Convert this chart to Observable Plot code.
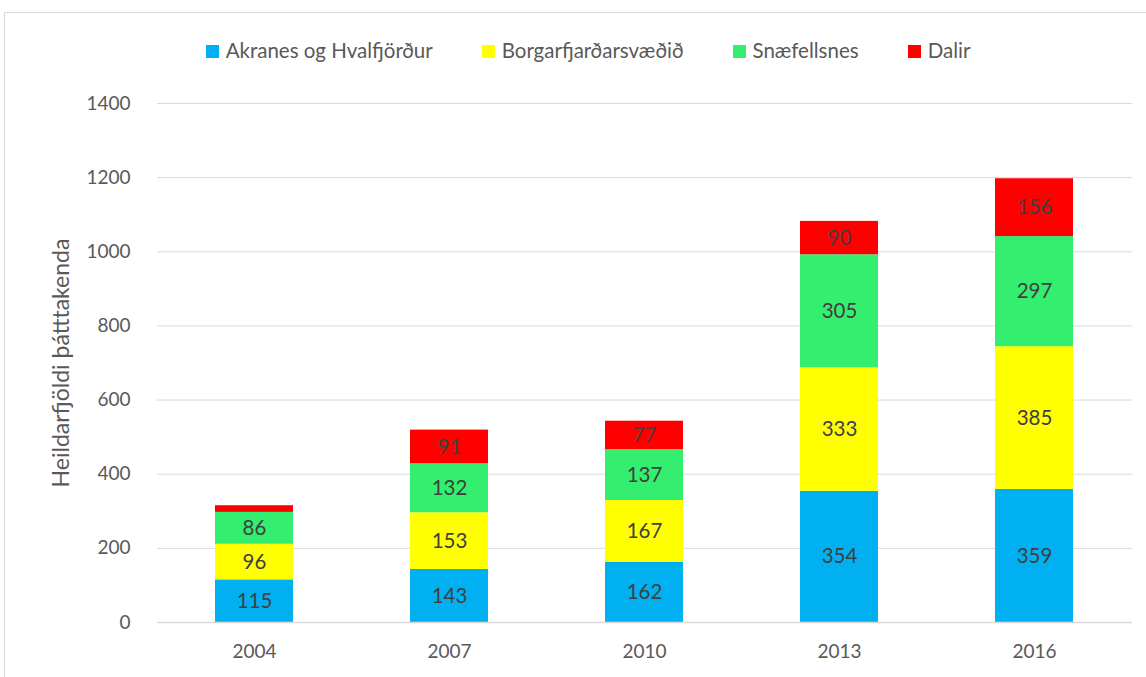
<!DOCTYPE html>
<html><head><meta charset="utf-8">
<script src="https://cdn.jsdelivr.net/npm/d3@7"></script>
<script src="https://cdn.jsdelivr.net/npm/@observablehq/plot@0.6"></script>
<style>
body{margin:0;background:#fff;font-family:Lato,"Open Sans",sans-serif;}
#frame{position:absolute;left:4px;top:12px;width:1150px;height:680px;border-left:1.5px solid #d9d9d9;border-top:1.5px solid #d9d9d9;}
#legend{position:absolute;left:0;top:30px;width:1146px;height:40px;display:flex;justify-content:center;align-items:center;gap:49px;font-size:20.5px;color:#595959;padding-left:30px;box-sizing:border-box;}
#legend span.sw{display:inline-block;width:13px;height:13px;margin-right:7px;}
#chart{position:absolute;left:0;top:76px;}
</style></head>
<body>
<div id="frame"></div>
<div id="legend"></div>
<div id="chart"></div>
<script>
const years = ["2004","2007","2010","2013","2016"];
const regions = ["Akranes og Hvalfjörður","Borgarfjarðarsvæðið","Snæfellsnes","Dalir"];
const colors = ["#00b0f0","#ffff00","#33ee6f","#ff0000"];
const akranes = [115,143,162,354,359];
const borgarfj = [96,153,167,333,385];
const snaefells = [86,132,137,305,297];
const dalir = [18,91,77,90,156];
const yTicks = [0,200,400,600,800,1000,1200,1400];

const series = [akranes, borgarfj, snaefells, dalir];
const data = [];
years.forEach((y,i)=>regions.forEach((r,j)=>data.push({year:y, region:r, value:series[j][i]})));

const legend = document.getElementById("legend");
regions.forEach((r,j)=>{
  const d=document.createElement("div");
  d.innerHTML=`<span class="sw" style="background:${colors[j]}"></span>${r}`;
  legend.appendChild(d);
});

const chart = Plot.plot({
  width:1146, height:601,
  marginTop:27, marginBottom:55, marginLeft:157, marginRight:14,
  style:{fontFamily:"Lato, 'Open Sans', sans-serif", fontSize:"19px", color:"#595959", background:"transparent"},
  x:{domain:years, paddingInner:0.6, paddingOuter:0.3, label:null, tickSize:0, tickPadding:22},
  y:{domain:[0,1400], ticks:yTicks, tickFormat:d3.format("d"), label:null, tickSize:0, tickPadding:27},
  color:{domain:regions, range:colors},
  marks:[
    Plot.gridY(yTicks,{stroke:"#d9d9d9", strokeOpacity:1, strokeWidth:1}),
    Plot.barY(data, Plot.stackY({x:"year", y:"value", fill:"region", order:regions})),
    Plot.text(data, Plot.stackY({filter:d=>d.value>=30, x:"year", y:"value", z:"region", order:regions, text:d=>String(d.value), fill:"#404040", fontSize:20.5})),
    Plot.ruleY([0],{stroke:"#d9d9d9", strokeWidth:1.5}),
    Plot.text(["Heildarfjöldi þátttakenda"],{frameAnchor:"left", textAnchor:"middle", dx:-96, rotate:-90, fontSize:23, fill:"#595959"})
  ]
});
document.getElementById("chart").appendChild(chart);
</script>
</body></html>
